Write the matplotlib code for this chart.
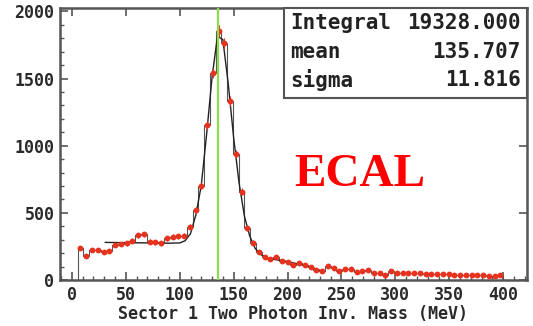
import numpy as np
import matplotlib
matplotlib.use("Agg")
import matplotlib.pyplot as plt
from matplotlib.ticker import MultipleLocator

# histogram: 75 bins over 0..400 MeV
bin_edges = np.linspace(0, 400, 76)
counts = [0, 235, 179, 223, 223, 208, 215, 261, 266, 273,
          293, 334, 342, 285, 280, 273, 310, 322, 327, 329,
          397, 523, 702, 1153, 1540, 1853, 1763, 1330, 940, 657,
          384, 278, 206, 174, 157, 169, 141, 131, 111, 124,
          111, 99, 75, 67, 104, 87, 70, 82, 82, 62,
          67, 75, 55, 50, 38, 65, 52, 50, 52, 49,
          50, 44, 42, 43, 41, 42, 39, 38, 39, 36,
          35, 36, 33, 32, 34]

# fit curve
fit_x = [31, 40, 50, 60, 70, 80, 90, 100, 105, 110, 115, 120, 125, 130,
         135, 140, 145, 150, 155, 160, 165, 170, 175, 182, 190, 197, 205,
         215, 222, 232]
fit_y = [280, 279, 278, 277, 276, 275, 274, 276, 292, 345, 485, 705, 1090, 1510,
         1815, 1790, 1460, 1060, 725, 475, 325, 235, 190, 160, 150, 142, 128,
         110, 95, 66]

mean_val = 135.707
stats_names = ["Integral", "mean", "sigma"]
stats_vals = ["19328.000", "135.707", "11.816"]

mono = "DejaVu Sans Mono"
edge_col = "#555555"
text_col = "#2a2a2a"

fig = plt.figure(figsize=(5.33, 3.26), dpi=100)
ax = fig.add_axes([60 / 533, 1 - 280 / 326, 467 / 533, 272 / 326])

centers = 0.5 * (bin_edges[:-1] + bin_edges[1:])
counts = np.array(counts, dtype=float)

ax.stairs(counts, bin_edges, color="#555555", lw=0.8, zorder=2)
ax.plot(fit_x, fit_y, color="#222222", lw=1.0, zorder=3)
m = counts > 0
ax.errorbar(centers[m], counts[m], yerr=np.sqrt(counts[m]), fmt="o",
            color="#e8321e", ms=4.2, mew=0, elinewidth=0.8, capsize=0, zorder=4)
ax.axvline(mean_val, color="#8fdc4a", lw=1.6, zorder=5)

ax.set_xlim(-11, 422)
ax.set_ylim(0, 2025)

ax.xaxis.set_major_locator(MultipleLocator(50))
ax.xaxis.set_minor_locator(MultipleLocator(10))
ax.yaxis.set_major_locator(MultipleLocator(500))
ax.yaxis.set_minor_locator(MultipleLocator(100))
ax.tick_params(which="major", direction="in", length=6, width=1.2, color=edge_col,
               top=True, right=True, labelsize=12, labelcolor=text_col, pad=4)
ax.tick_params(which="minor", direction="in", length=3, width=1.0, color=edge_col,
               top=False, right=False)
for lab in ax.get_xticklabels() + ax.get_yticklabels():
    lab.set_fontfamily(mono)
    lab.set_fontweight("bold")

for sp in ax.spines.values():
    sp.set_color(edge_col)
    sp.set_linewidth(1.8)

ax.set_xlabel("Sector 1 Two Photon Inv. Mass (MeV)", fontfamily=mono,
              fontweight="bold", fontsize=12, color=text_col, labelpad=1)

# stats box
x0 = (284 - 60) / 467
y0 = 1 - (98 - 8) / 272
ax.add_patch(plt.Rectangle((x0, y0), 1 - x0, 1 - y0, transform=ax.transAxes,
                           facecolor="white", edgecolor=edge_col, lw=1.5,
                           zorder=6, clip_on=False))
row_y = [23, 52, 80]
for name, val, yy in zip(stats_names, stats_vals, row_y):
    ya = (280 - yy) / 272
    ax.text((290 - 60) / 467, ya, name, transform=ax.transAxes, fontfamily=mono,
            fontsize=15, fontweight="bold", color="#222222", ha="left",
            va="center", zorder=7)
    ax.text((521 - 60) / 467, ya, val, transform=ax.transAxes, fontfamily=mono,
            fontsize=15, fontweight="bold", color="#222222", ha="right",
            va="center", zorder=7)

ax.text((360 - 60) / 467, (280 - 175) / 272, "ECAL", transform=ax.transAxes,
        fontfamily="Liberation Serif", fontweight="bold", fontsize=34,
        color="#ff0000", ha="center", va="center", zorder=7)

fig.savefig("out.png", dpi=100)
